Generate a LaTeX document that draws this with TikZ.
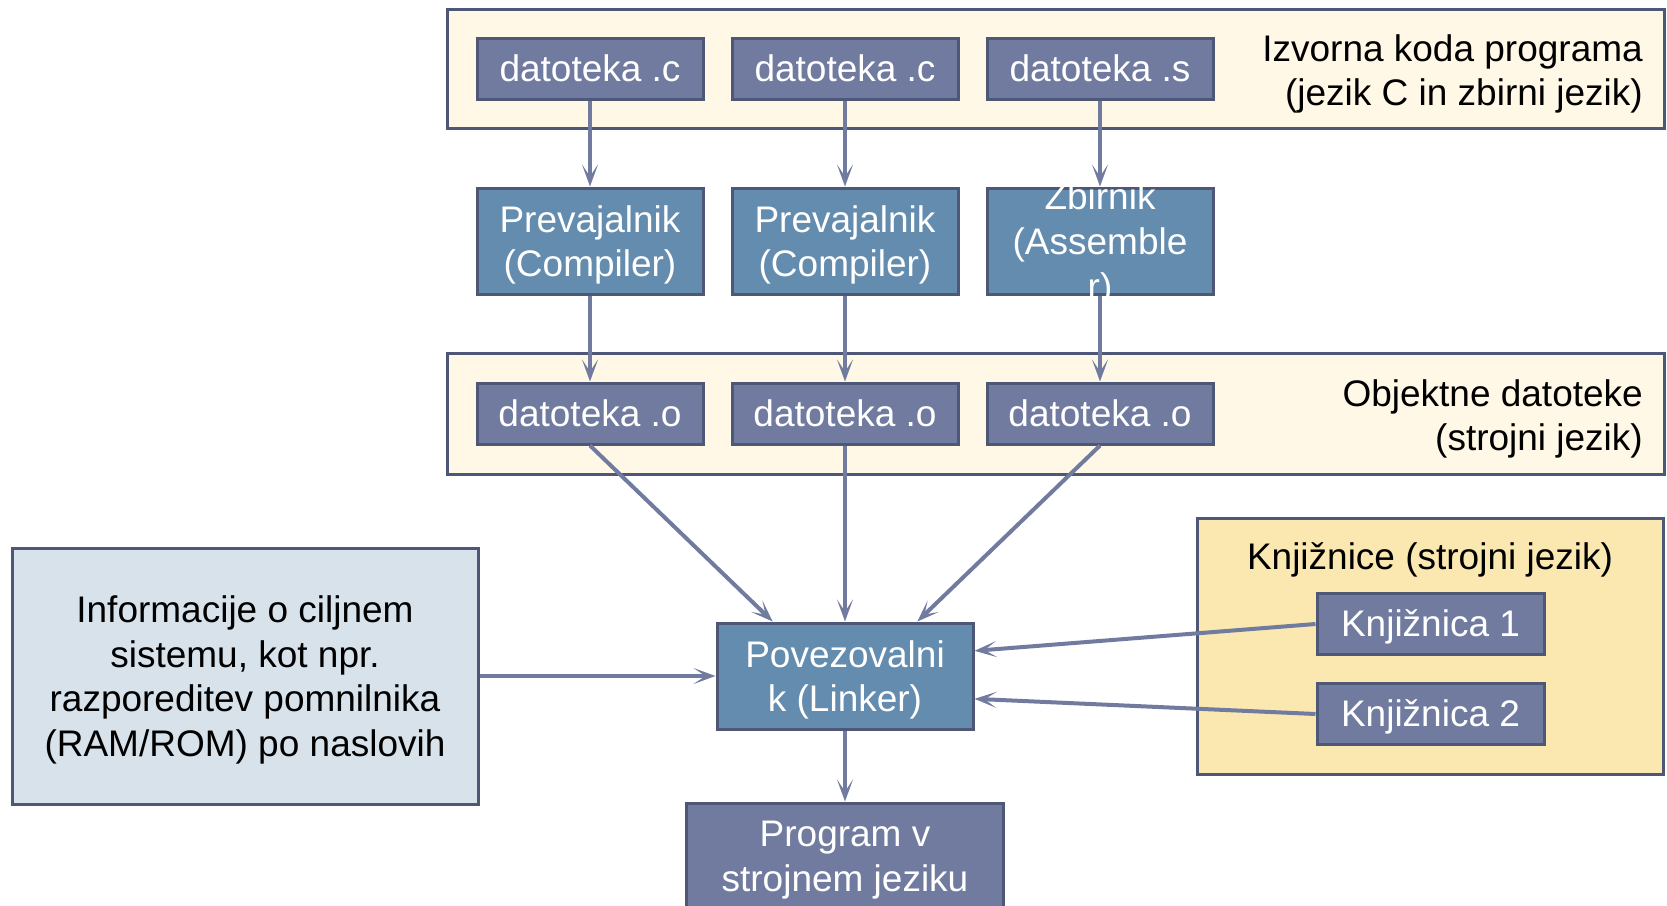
\documentclass[tikz,border=0pt]{standalone}
\usepackage{fontspec}
\setmainfont{Liberation Sans}
\usetikzlibrary{arrows.meta, positioning}

\definecolor{edgec}{RGB}{79,87,119}
\definecolor{filec}{RGB}{113,123,160}
\definecolor{toolc}{RGB}{100,140,175}
\definecolor{arrowc}{RGB}{113,123,160}
\definecolor{creamc}{RGB}{255,248,230}
\definecolor{libc}{RGB}{251,231,176}
\definecolor{infoc}{RGB}{216,226,235}

\begin{document}
\begin{tikzpicture}[x=1pt, y=-1pt, node distance=255pt,
    >={Stealth[length=22pt, width=16pt, inset=12pt]},
    every node/.style={font=\fontsize{37}{44.6}\selectfont},
    group/.style={draw=edgec, line width=3pt, fill=creamc},
    grouptext/.style={align=right, inner sep=0pt, anchor=east},
    filebox/.style={draw=edgec, line width=3pt, fill=filec, text=white,
        minimum width=226pt, minimum height=61pt, inner sep=2pt,
        text height=33.5pt, text depth=7.8pt},
    toolbox/.style={draw=edgec, line width=3pt, fill=toolc, text=white, align=center,
        text depth=0pt, minimum width=226pt, minimum height=106pt, inner sep=2pt},
    flow/.style={->, draw=arrowc, line width=4pt}]

    \useasboundingbox (0,0) rectangle (1667,905);

    % ozadja skupin
    \node[group, minimum width=1217pt, minimum height=119pt] (src) at (1055.5,68.5) {};
    \node[group, minimum width=1217pt, minimum height=121pt] (obj) at (1055.5,413.5) {};
    \node[group, fill=libc, minimum width=466pt, minimum height=256pt] (lib) at (1430,646) {};
    \node[group, fill=infoc, text depth=0pt, minimum width=466pt, minimum height=256pt, align=center, inner sep=0pt]
        (info) at (245,676) {Informacije o ciljnem\\sistemu, kot npr.\\razporeditev pomnilnika\\(RAM/ROM) po naslovih};

    \node[grouptext] (srctxt) at (1643,74) {Izvorna koda programa\\(jezik C in zbirni jezik)};
    \node[grouptext] (objtxt) at (1643,419) {Objektne datoteke\\(strojni jezik)};
    \node[inner sep=0pt] (libtxt) at (1430,560) {Knjižnice (strojni jezik)};

    % izvorne datoteke
    \node[filebox] (c1) at (590,68.5) {datoteka .c};
    \node[filebox] (c2) [right of = c1] {datoteka .c};
    \node[filebox] (s3) [right of = c2] {datoteka .s};

    % prevajalniki
    \node[toolbox, node distance=172.5pt, below of = c1] (cc1) {Prevajalnik\\(Compiler)};
    \node[toolbox, node distance=172.5pt, below of = c2] (cc2) {Prevajalnik\\(Compiler)};
    \node[toolbox, node distance=172.5pt, below of = s3] (as3) {};
    \node[text=white, align=center, text depth=0pt] (as3txt) at (as3) {Zbirnik\\(Assemble\\r)};

    % objektne datoteke
    \node[filebox, node distance=172.5pt, below of = cc1] (o1) {datoteka .o};
    \node[filebox, node distance=172.5pt, below of = cc2] (o2) {datoteka .o};
    \node[filebox, node distance=172.5pt, below of = as3] (o3) {datoteka .o};

    % povezovalnik
    \node[toolbox, minimum width=256pt] (lnk) at (845,676) {Povezovalni\\k (Linker)};
    \node[toolbox, fill=filec, minimum width=317pt, node distance=180pt, below of = lnk] (prog) {Program v\\strojnem jeziku};

    % knjiznice
    \node[filebox, minimum width=227pt] (k1) at (1430.5,624) {Knjižnica 1};
    \node[filebox, minimum width=227pt, node distance=90pt, below of = k1] (k2) {Knjižnica 2};

    \draw[flow] (c1) -- (cc1);
    \draw[flow] (c2) -- (cc2);
    \draw[flow] (s3) -- (as3);
    \draw[flow] (cc1) -- (o1);
    \draw[flow] (cc2) -- (o2);
    \draw[flow] (as3) -- (o3);
    \draw[flow] (o1.south) -- (lnk.143);
    \draw[flow] (o2) -- (lnk);
    \draw[flow] (o3.south) -- (lnk.37);
    \draw[flow] (info) -- (lnk);
    \draw[flow] (k1.west) -- (lnk.11);
    \draw[flow] (k2.west) -- (lnk.-10);
    \draw[flow] (lnk) -- (prog);
\end{tikzpicture}
\end{document}
